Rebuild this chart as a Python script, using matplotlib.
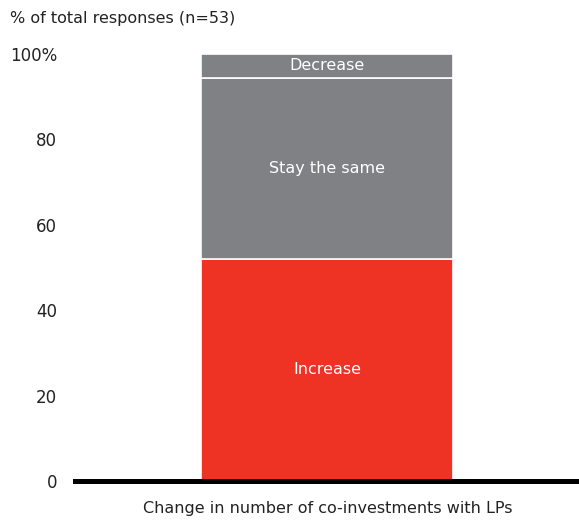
import matplotlib.pyplot as plt

# du lieu
category = "Change in number of co-investments with LPs"
segments = ["Increase", "Stay the same", "Decrease"]
values = [52.0, 42.4, 5.6]
colors = ["#ee3224", "#808185", "#808185"]
tick_vals = [0, 20, 40, 60, 80, 100]
tick_labels = ["0", "20", "40", "60", "80", "100%"]

fig = plt.figure(figsize=(5.79, 5.22), dpi=100)
ax = fig.add_axes([75 / 579, 41 / 522, 504 / 579, 427 / 522])

bottom = 0
for name, val, col in zip(segments, values, colors):
    ax.bar(0, val, bottom=bottom, width=1.0, color=col, edgecolor="white", linewidth=1.2)
    ax.text(0, bottom + val / 2, name, ha="center", va="center", color="white", fontsize=11.5)
    bottom += val

ax.set_xlim(-1, 1)
ax.set_ylim(0, 100)
ax.set_yticks(tick_vals)
ax.set_yticklabels(tick_labels, fontsize=12, color="#222222")
ax.tick_params(axis="y", length=0, pad=13)
ax.set_xticks([])

for s in ["left", "right", "top"]:
    ax.spines[s].set_visible(False)
ax.spines["bottom"].set_linewidth(3.6)
ax.spines["bottom"].set_color("black")
ax.spines["bottom"].set_zorder(5)

fig.text(10 / 579, 1 - 18 / 522, "% of total responses (n=53)", ha="left", va="center",
         fontsize=11.5, color="#222222")
fig.text(328 / 579, 1 - 509 / 522, category, ha="center", va="center",
         fontsize=11.5, color="#222222")

fig.savefig("out.png", dpi=100)
